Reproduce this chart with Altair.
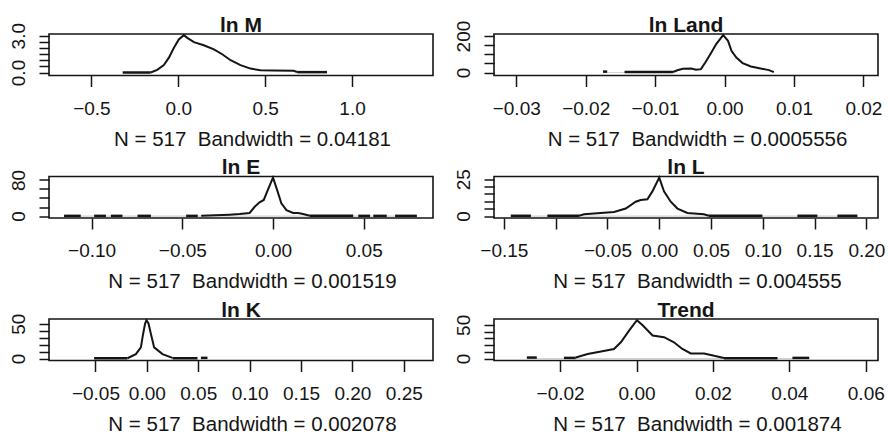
import altair as alt
import pandas as pd

FONT = "Liberation Sans"
INK = "#151515"

# ---- ln M -------------------------------------------------------------
LNM_X = [-0.159, -0.121, -0.083, -0.054, -0.025, 0.003, 0.032, 0.052, 0.090,
         0.147, 0.205, 0.253, 0.301, 0.358, 0.416, 0.473, 0.549, 0.664, 0.684]
LNM_Y = [0.0, 0.22, 0.60, 1.21, 2.02, 2.70, 3.05, 2.83, 2.48,
         2.22, 1.89, 1.49, 1.00, 0.60, 0.32, 0.19, 0.16, 0.14, 0.04]
LNM_TAILS = [(-0.32, -0.159, 0.0), (0.684, 0.856, 0.03)]

# ---- ln Land ----------------------------------------------------------
LNLAND_X = [-0.0074, -0.0068, -0.0060, -0.0048, -0.0041, -0.0034, -0.0027,
            -0.0019, -0.0012, -0.0002, 0.0005, 0.0010, 0.0017, 0.0026,
            0.0038, 0.0052, 0.0064, 0.0071]
LNLAND_Y = [3.0, 12.0, 20.0, 22.0, 15.0, 18.6, 58.6,
            109.6, 155.7, 205.0, 173.8, 119.0, 82.0, 51.5,
            32.9, 21.9, 13.2, 2.0]
LNLAND_TAILS = [(-0.0175, -0.0169, 5.0), (-0.0144, -0.0074, 3.0)]

# ---- ln E -------------------------------------------------------------
LNE_X = [-0.0396, -0.0240, -0.0184, -0.0129, -0.0101, -0.0074, -0.0051, -0.0028,
         0.0, 0.0022, 0.0046, 0.0074, 0.0111, 0.0138, 0.0166, 0.0203]
LNE_Y = [0.5, 3.2, 4.5, 6.8, 20.5, 30.5, 35.7, 58.4,
         85.0, 58.4, 28.2, 13.0, 6.8, 6.8, 4.5, 0.9]
LNE_TAILS = [(-0.1152, -0.1060, 0.5), (-0.0986, -0.0921, 0.5), (-0.0894, -0.0830, 0.5),
             (-0.0747, -0.0673, 0.5), (-0.0479, -0.0415, 0.5), (0.0203, 0.0442, 0.5),
             (0.0470, 0.0535, 0.5), (0.0553, 0.0627, 0.5), (0.0673, 0.0793, 0.5)]

# ---- ln L -------------------------------------------------------------
LNL_X = [-0.0774, -0.0726, -0.0565, -0.0436, -0.0323, -0.0227, -0.0179, -0.0114,
         -0.0066, 0.0, 0.0046, 0.0111, 0.0176, 0.0272, 0.0432, 0.0480]
LNL_Y = [0.2, 1.2, 2.1, 2.8, 5.1, 9.7, 10.9, 11.4,
         16.7, 26.0, 16.7, 9.7, 5.1, 2.1, 1.2, 0.2]
LNL_TAILS = [(-0.1433, -0.1239, 0.2), (-0.1080, -0.0774, 0.2), (0.0480, 0.0996, 0.2),
             (0.1334, 0.1527, 0.2), (0.1720, 0.1913, 0.2)]

# ---- ln K -------------------------------------------------------------
LNK_X = [-0.0189, -0.0107, -0.0058, -0.0036, -0.0017, -0.0004, 0.0016, 0.0039,
         0.0071, 0.0152, 0.0250]
LNK_Y = [0.5, 6.4, 16.0, 35.6, 50.2, 55.0, 50.2, 35.6,
         16.0, 6.4, 1.0]
LNK_TAILS = [(-0.0513, -0.0189, 0.5), (0.0250, 0.0493, 0.5), (0.0526, 0.0590, 1.0)]

# ---- Trend ------------------------------------------------------------
TREND_X = [-0.0159, -0.0128, -0.0093, -0.0059, -0.0041, -0.0019, 0.0001, 0.0016,
           0.0042, 0.0072, 0.0098, 0.0120, 0.0142, 0.0177, 0.0203, 0.0229]
TREND_Y = [1.5, 6.7, 10.6, 14.2, 24.2, 41.9, 57.0, 49.4,
           34.3, 31.8, 24.2, 14.2, 7.6, 7.6, 4.1, 1.0]
TREND_TAILS = [(-0.0287, -0.0261, 1.5), (-0.0190, -0.0159, 1.0),
               (0.0229, 0.0369, 0.5), (0.0408, 0.0452, 1.0)]

N_OBS = 517

PANELS = [
    dict(title="ln M", x=LNM_X, y=LNM_Y, tails=LNM_TAILS, bw="0.04181", gap=False,
         xdom=[-0.744, 1.466], xticks=[-0.5, 0.0, 0.5, 1.0], xfmt=".1f", xhide=[],
         yticks=[0, 0.5, 1.0, 1.5, 2.0, 2.5, 3.0], ytop=3, yfmt=".1f", low=0.08),
    dict(title="ln Land", x=LNLAND_X, y=LNLAND_Y, tails=LNLAND_TAILS, bw="0.0005556",
         gap=True, xdom=[-0.0332, 0.0221],
         xticks=[-0.03, -0.02, -0.01, 0.0, 0.01, 0.02],
         xfmt=".2f", xhide=[], yticks=[0, 50, 100, 150, 200], ytop=200, yfmt="d",
         low=0.08),
    dict(title="ln E", x=LNE_X, y=LNE_Y, tails=LNE_TAILS, bw="0.001519", gap=True,
         xdom=[-0.1235, 0.0882], xticks=[-0.10, -0.05, 0.0, 0.05], xfmt=".2f",
         xhide=[], yticks=[0, 20, 40, 60, 80], ytop=80, yfmt="d", low=0.05),
    dict(title="ln L", x=LNL_X, y=LNL_Y, tails=LNL_TAILS, bw="0.004555", gap=True,
         xdom=[-0.1595, 0.2112],
         xticks=[-0.15, -0.10, -0.05, 0.0, 0.05, 0.10, 0.15, 0.20], xfmt=".2f",
         xhide=[-0.10], yticks=[0, 5, 10, 15, 20, 25], ytop=25, yfmt="d", low=0.05),
    dict(title="ln K", x=LNK_X, y=LNK_Y, tails=LNK_TAILS, bw="0.002078", gap=False,
         xdom=[-0.0952, 0.2784],
         xticks=[-0.05, 0.0, 0.05, 0.10, 0.15, 0.20, 0.25], xfmt=".2f", xhide=[],
         yticks=[0, 10, 20, 30, 40, 50], ytop=50, yfmt="d", low=0.05),
    dict(title="Trend", x=TREND_X, y=TREND_Y, tails=TREND_TAILS, bw="0.001874",
         gap=True, xdom=[-0.0373, 0.0632], xticks=[-0.02, 0.0, 0.02, 0.04, 0.06],
         xfmt=".2f", xhide=[], yticks=[0, 10, 20, 30, 40, 50], ytop=50, yfmt="d",
         low=0.05),
]

W, H = 384, 41.5


def density_panel(p):
    curve = pd.DataFrame({"x": p["x"], "y": p["y"]})
    tails = pd.DataFrame(p["tails"], columns=["x", "x1", "y"])
    lo = min(t[0] for t in p["tails"])
    hi = max(t[1] for t in p["tails"])
    base = pd.DataFrame({"x": [lo], "x1": [hi], "y": [0.0]})
    peak = max(p["y"])

    if p["xhide"]:
        cond = " || ".join(f"abs(datum.value - ({v})) < 1e-9" for v in p["xhide"])
        xlab = f"({cond}) ? '' : datum.label"
    else:
        xlab = "datum.label"

    xaxis = alt.Axis(
        values=p["xticks"], format=p["xfmt"], labelExpr=xlab,
        title=f"N = {N_OBS}\u00a0\u00a0Bandwidth = {p['bw']}",
        titleX=203, titleY=69.5, titleAlign="center", titleBaseline="alphabetic",
        titleFontSize=20.5, titleFontWeight="normal",
        tickSize=11, labelPadding=12.6, labelBaseline="top", labelFontSize=19,
        domain=False, grid=False, labelOverlap=False, labelFlush=False,
    )
    yaxis = alt.Axis(
        values=p["yticks"], format=p["yfmt"],
        labelExpr=f"datum.value == 0 || datum.value == {p['ytop']} ? datum.label : ''",
        labelAngle=270, labelAlign="center", labelBaseline="alphabetic",
        tickSize=10, labelPadding=15, labelFontSize=19, title=None,
        domain=False, grid=False, labelOverlap=False, labelFlush=False,
    )
    xs = alt.Scale(domain=p["xdom"], nice=False, zero=False)
    ys = alt.Scale(domain=[-p["low"] * peak, 1.03 * peak], nice=False, zero=False)

    X = alt.X("x:Q", scale=xs, axis=xaxis)
    Y = alt.Y("y:Q", scale=ys, axis=yaxis)

    layers = []
    if p["gap"]:
        # faint zero line visible between the isolated tail segments
        layers.append(
            alt.Chart(base).mark_rule(color="#d2d2d2", strokeWidth=1.2).encode(
                x=X, x2="x1:Q", y=Y)
        )
    layers.append(alt.Chart(curve).mark_line(color=INK, strokeWidth=2).encode(x=X, y=Y))
    layers.append(alt.Chart(tails).mark_rule(color=INK, strokeWidth=2.5).encode(
        x=X, x2="x1:Q", y=Y))
    layers.append(alt.Chart(pd.DataFrame({"t": [p["title"]]})).mark_text(
        font=FONT, fontSize=21, fontWeight="bold", color=INK,
        align="center", baseline="alphabetic",
    ).encode(x=alt.value(W / 2), y=alt.value(-2.5), text="t:N"))

    return alt.layer(*layers).properties(width=W, height=H)


chart = alt.concat(
    *[density_panel(p) for p in PANELS],
    columns=2,
    spacing={"row": 100.5, "column": 61},
    bounds="flush",
).properties(
    padding={"left": 8, "top": 13, "right": 0, "bottom": 0},
    background="white",
).configure_view(
    stroke=INK, strokeWidth=1.6,
).configure_axis(
    labelFont=FONT, titleFont=FONT, labelColor=INK, titleColor=INK,
    tickColor=INK, tickWidth=1.5,
)

chart.save("out.html", embed_options={"renderer": "svg", "actions": False})
